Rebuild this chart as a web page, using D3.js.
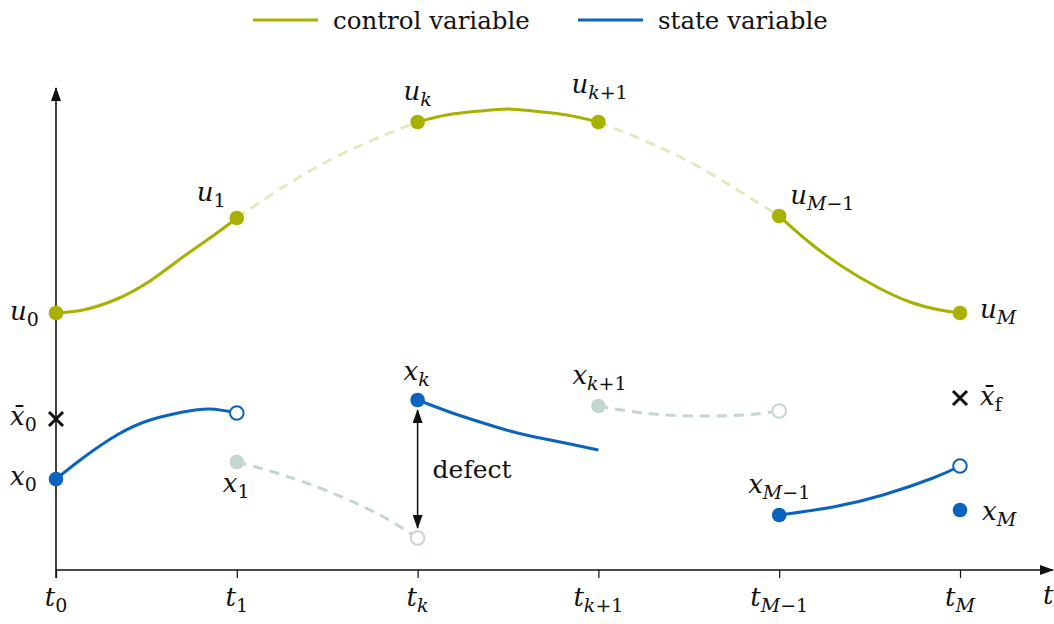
<!DOCTYPE html>
<html>
<head>
<meta charset="utf-8">
<script src="https://cdn.jsdelivr.net/npm/d3@7"></script>
<style>
  html, body { margin: 0; padding: 0; background: #fff; }
  svg { display: block; }
  text { font-family: "DejaVu Serif", serif; fill: #111; }
  .math { font-style: italic; }
</style>
</head>
<body>
<svg id="chart" width="1054" height="624"></svg>
<script>
// Time grid of the multiple-shooting discretisation
const times = [0, 1, 2, 3, 4, 5];
const tickBase = ["t", "t", "t", "t", "t", "t"];
const tickSub = ["0", "1", "k", "k+1", "M\u22121", "M"];

// Control values at the shooting nodes
const controlNodes = [2.57, 3.52, 4.48, 4.48, 3.54, 2.57];

// Control trajectory pieces: [t, u]
const controlA = [[0, 2.57], [0.149, 2.60], [0.337, 2.71], [0.52, 2.89], [0.702, 3.13], [0.89, 3.37], [1, 3.52]];
const controlB = [[1, 3.52], [1.239, 3.81], [1.515, 4.10], [1.792, 4.33], [2, 4.48]];
const controlC = [[2, 4.48], [2.16, 4.55], [2.345, 4.59], [2.494, 4.61], [2.638, 4.59], [2.826, 4.55], [3, 4.48]];
const controlD = [[3, 4.48], [3.208, 4.33], [3.485, 4.10], [3.761, 3.81], [4, 3.54]];
const controlE = [[4, 3.54], [4.171, 3.27], [4.353, 3.03], [4.541, 2.83], [4.723, 2.68], [4.889, 2.60], [5, 2.57]];

// State trajectory pieces on each shooting interval: [t, x]
const state1 = [[0, 0.91], [0.149, 1.12], [0.337, 1.35], [0.52, 1.50], [0.702, 1.58], [0.852, 1.61], [1, 1.57]];
const state2 = [[1, 1.08], [1.239, 0.96], [1.515, 0.78], [1.792, 0.55], [2, 0.32]];
const state3 = [[2, 1.70], [2.177, 1.58], [2.345, 1.48], [2.511, 1.39], [2.677, 1.32], [2.843, 1.26], [3, 1.20]];
const state4 = [[3, 1.64], [3.249, 1.57], [3.523, 1.54], [3.8, 1.55], [4, 1.59]];
const state5 = [[4, 0.55], [4.298, 0.63], [4.574, 0.75], [4.851, 0.92], [5, 1.04]];
const stateFinal = [5, 0.60];

// Initial and terminal reference states
const xBar0 = [0, 1.51];
const xBarF = [5, 1.72];

const COLORS = {
  control: "#a8b000",
  controlLight: "#e4e9bd",
  state: "#0a64bf",
  stateLight: "#c4d6d1",
  axis: "#111"
};

const svg = d3.select("#chart");
const x = d3.scaleLinear().domain([0, 5]).range([56, 960]);
const y = d3.scaleLinear().domain([0, 4.8]).range([570, 90]);

const defs = svg.append("defs");
function arrowMarker(id, orient) {
  defs.append("marker")
    .attr("id", id)
    .attr("viewBox", "0 0 14 10")
    .attr("refX", 13).attr("refY", 5)
    .attr("markerWidth", 14).attr("markerHeight", 10)
    .attr("markerUnits", "userSpaceOnUse")
    .attr("orient", orient)
    .append("path").attr("d", "M0,0 L14,5 L0,10 Z").attr("fill", COLORS.axis);
}
arrowMarker("arrow", "auto");
arrowMarker("arrow2", "auto-start-reverse");

// Axes
const xAxis = d3.axisBottom(x).tickValues(times).tickSize(8).tickFormat("");
const gx = svg.append("g").attr("transform", `translate(0,${y(0)})`).call(xAxis);
gx.select(".domain").remove();
gx.selectAll(".tick line").attr("stroke", COLORS.axis).attr("stroke-width", 1.2);

svg.append("line")
  .attr("x1", x(0)).attr("x2", 1053)
  .attr("y1", y(0)).attr("y2", y(0))
  .attr("stroke", COLORS.axis).attr("stroke-width", 1.6)
  .attr("marker-end", "url(#arrow)");
svg.append("line")
  .attr("x1", x(0)).attr("x2", x(0))
  .attr("y1", y(0) + 8).attr("y2", 88)
  .attr("stroke", COLORS.axis).attr("stroke-width", 1.6)
  .attr("marker-end", "url(#arrow)");

// Math-style label with subscript; letters italic, digits/operators and "f" upright
function mathLabel(g, px, py, base, sub, opts = {}) {
  const size = opts.size || 26;
  const t = g.append("text")
    .attr("class", "math")
    .attr("x", px).attr("y", py)
    .attr("text-anchor", opts.anchor || "start")
    .style("font-size", size + "px");
  t.append("tspan").text(base);
  if (sub) {
    const runs = sub.match(/[A-Za-eg-z]+|[^A-Za-eg-z]+/g);
    runs.forEach((r, i) => {
      const ts = t.append("tspan")
        .style("font-size", Math.round(size * 0.72) + "px")
        .style("font-style", /^[A-Za-eg-z]+$/.test(r) ? "italic" : "normal")
        .text(r);
      if (i === 0) ts.attr("dy", 6);
    });
  }
  return t;
}

const labels = svg.append("g");
times.forEach((t, i) => {
  mathLabel(labels, x(t), y(0) + 36, tickBase[i], tickSub[i], { anchor: "middle" });
});
mathLabel(labels, 1043, y(0) + 34, "t", "");

// Curves
const line = d3.line().x(d => x(d[0])).y(d => y(d[1])).curve(d3.curveNatural);

function drawPath(data, color, dashed) {
  svg.append("path")
    .attr("d", line(data))
    .attr("fill", "none")
    .attr("stroke", color)
    .attr("stroke-width", 3)
    .attr("stroke-dasharray", dashed ? "10,7" : null);
}

drawPath(controlA, COLORS.control, false);
drawPath(controlB, COLORS.controlLight, true);
drawPath(controlC, COLORS.control, false);
drawPath(controlD, COLORS.controlLight, true);
drawPath(controlE, COLORS.control, false);

drawPath(state1, COLORS.state, false);
drawPath(state2, COLORS.stateLight, true);
drawPath(state3, COLORS.state, false);
drawPath(state4, COLORS.stateLight, true);
drawPath(state5, COLORS.state, false);

// Defect between continuation and next node
const defectTop = state3[0][1];
const defectBottom = state2[state2.length - 1][1];
svg.append("line")
  .attr("x1", x(2)).attr("x2", x(2))
  .attr("y1", y(defectTop) + 10).attr("y2", y(defectBottom) - 10)
  .attr("stroke", COLORS.axis).attr("stroke-width", 1.5)
  .attr("marker-start", "url(#arrow2)")
  .attr("marker-end", "url(#arrow)");
svg.append("text")
  .attr("x", x(2) + 15).attr("y", y((defectTop + defectBottom) / 2) + 9)
  .style("font-size", "25px")
  .text("defect");

// Markers
function dot(p, color, open) {
  svg.append("circle")
    .attr("cx", x(p[0])).attr("cy", y(p[1]))
    .attr("r", open ? 6.8 : 7.3)
    .attr("fill", open ? "#fff" : color)
    .attr("stroke", open ? color : "none")
    .attr("stroke-width", 2);
}
times.forEach((t, i) => dot([t, controlNodes[i]], COLORS.control, false));

const last = a => a[a.length - 1];
dot(state1[0], COLORS.state, false);
dot(last(state1), COLORS.state, true);
dot(state2[0], COLORS.stateLight, false);
dot(last(state2), COLORS.stateLight, true);
dot(state3[0], COLORS.state, false);
dot(state4[0], COLORS.stateLight, false);
dot(last(state4), COLORS.stateLight, true);
dot(state5[0], COLORS.state, false);
dot(last(state5), COLORS.state, true);
dot(stateFinal, COLORS.state, false);

function cross(p) {
  const cx = x(p[0]), cy = y(p[1]), s = 7;
  svg.append("path")
    .attr("d", `M${cx - s},${cy - s}L${cx + s},${cy + s}M${cx - s},${cy + s}L${cx + s},${cy - s}`)
    .attr("stroke", COLORS.axis).attr("stroke-width", 3);
}
cross(xBar0);
cross(xBarF);

// Node labels
const u = (i) => [times[i], controlNodes[i]];
function at(p, dx, dy) { return [x(p[0]) + dx, y(p[1]) + dy]; }
function put(p, dx, dy, base, sub, anchor) {
  const q = at(p, dx, dy);
  return mathLabel(labels, q[0], q[1], base, sub, { anchor: anchor || "start" });
}
put(u(0), -46, 7, "u", "0");
put(u(1), -40, -17, "u", "1");
put(u(2), -14, -22, "u", "k");
put(u(3), -27, -29, "u", "k+1");
put(u(4), 11, -12, "u", "M\u22121");
put(u(5), 20, 5, "u", "M");

put(state1[0], -46, 6, "x", "0");
put(xBar0, -46, 6, "x\u0304", "0");
put(state2[0], -14, 30, "x", "1");
put(state3[0], -14, -20, "x", "k");
put(state4[0], -26, -22, "x", "k+1");
put(state5[0], -31, -22, "x", "M\u22121");
put(stateFinal, 22, 10, "x", "M");
put(xBarF, 20, 7, "x\u0304", "f");

// Legend
const legend = svg.append("g");
const legendItems = [["control variable", COLORS.control, 253], ["state variable", COLORS.state, 578]];
legendItems.forEach(([name, color, lx]) => {
  legend.append("line")
    .attr("x1", lx).attr("x2", lx + 65)
    .attr("y1", 20).attr("y2", 20)
    .attr("stroke", color).attr("stroke-width", 3);
  legend.append("text")
    .attr("x", lx + 80).attr("y", 29)
    .style("font-size", "24.5px")
    .text(name);
});
</script>
</body>
</html>
